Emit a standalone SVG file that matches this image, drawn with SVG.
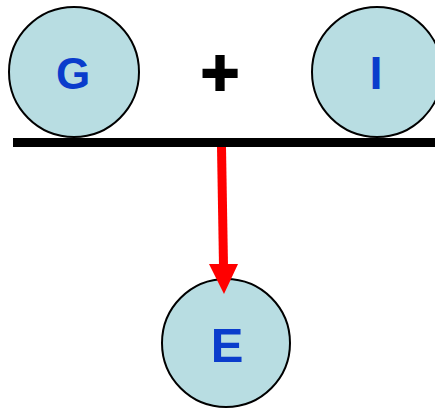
<svg xmlns="http://www.w3.org/2000/svg" width="435" height="409" viewBox="0 0 435 409">
<style>
.node{fill:#b8dde2;stroke:#000;stroke-width:2}
.lbl{font-family:"Liberation Sans",Arial,sans-serif;font-weight:bold;fill:#0a3ccc;text-anchor:middle}
</style>
<rect width="435" height="409" fill="#fff"/>
<g id="G"><circle class="node" cx="74" cy="72" r="65"/><text class="lbl" x="73" y="89" font-size="44">G</text></g>
<g id="I"><circle class="node" cx="377" cy="72" r="65"/><text class="lbl" x="376" y="89" font-size="47">I</text></g>
<g id="E"><circle class="node" cx="226" cy="343" r="64"/><text class="lbl" x="227" y="362" font-size="49">E</text></g>
<g id="plus"><text x="220" y="95" font-family="Liberation Sans,Arial,sans-serif" font-weight="bold" font-size="66" text-anchor="middle" fill="#000" stroke="#000" stroke-width="2">+</text></g>
<g id="connectors">
<rect x="13" y="138" width="422" height="9" fill="#000"/>
<line x1="221.5" y1="147" x2="223.5" y2="266" stroke="#f00" stroke-width="9"/>
<polygon points="209,264 238,264 224,294" fill="#f00"/>
</g>
</svg>
